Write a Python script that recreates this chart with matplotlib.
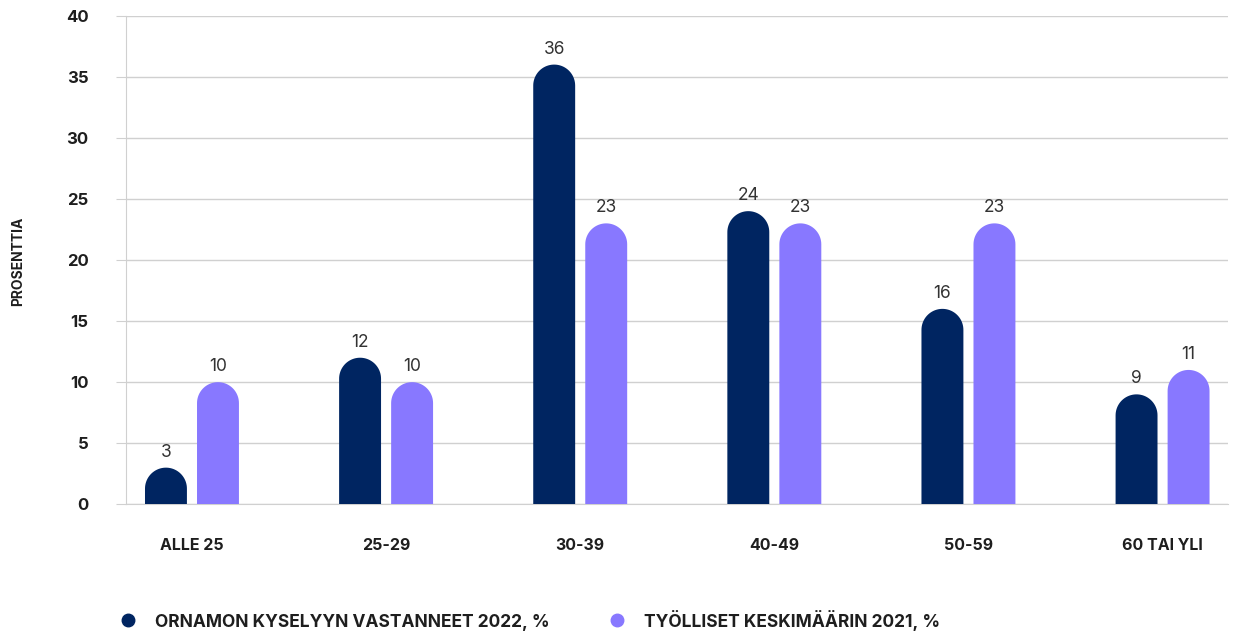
import numpy as np
import matplotlib.pyplot as plt
from matplotlib.patches import Polygon
from matplotlib.lines import Line2D

categories = ["ALLE 25", "25-29", "30-39", "40-49", "50-59", "60 TAI YLI"]
ornamo_2022 = [3, 12, 36, 24, 16, 9]
tyolliset_2021 = [10, 10, 23, 23, 23, 11]
series_names = ["ORNAMON KYSELYYN VASTANNEET 2022, %", "TYÖLLISET KESKIMÄÄRIN 2021, %"]
yticks = [0, 5, 10, 15, 20, 25, 30, 35, 40]

navy = "#002561"
lilac = "#8878FF"
grid_col = "#d0d0d0"
txt_col = "#1e1e1e"

plt.rcParams['font.family'] = ['Inter', 'DejaVu Sans']

fig = plt.figure(figsize=(12.35, 6.34), dpi=100)
ax = fig.add_axes([0.102, 0.2046, 0.892, 0.7706])

x = np.arange(len(categories))
bw = 0.216
offset = 0.134
ax.set_xlim(-0.34, len(categories) - 1 + 0.335)
ax.set_ylim(0, 40)


def rounded_bar(xc, val, color):
    # bar with a half-round top, radius = half bar width in pixels
    x_px_per_unit = ax.transData.transform((1, 0))[0] - ax.transData.transform((0, 0))[0]
    y_px_per_unit = ax.transData.transform((0, 1))[1] - ax.transData.transform((0, 0))[1]
    rx = bw / 2
    ry = rx * x_px_per_unit / y_px_per_unit
    ry = min(ry, val)
    t = np.linspace(0, np.pi, 40)
    top_x = xc + rx * np.cos(t)
    top_y = val - ry + ry * np.sin(t)
    pts = [(xc + rx, 0)] + list(zip(top_x, top_y)) + [(xc - rx, 0)]
    ax.add_patch(Polygon(pts, closed=True, facecolor=color, edgecolor="none", zorder=3))


for i in range(len(categories)):
    rounded_bar(x[i] - offset, ornamo_2022[i], navy)
    rounded_bar(x[i] + offset, tyolliset_2021[i], lilac)
    ax.annotate(str(ornamo_2022[i]), (x[i] - offset, ornamo_2022[i]), xytext=(0, 5),
                textcoords="offset points", ha="center", va="bottom", fontsize=12.5, color="#333333")
    ax.annotate(str(tyolliset_2021[i]), (x[i] + offset, tyolliset_2021[i]), xytext=(0, 5),
                textcoords="offset points", ha="center", va="bottom", fontsize=12.5, color="#333333")

ax.set_yticks(yticks)
ax.set_yticklabels([str(v) for v in yticks], fontsize=12, fontweight="bold", color=txt_col)
ax.set_xticks(x)
ax.set_xticklabels(categories, fontsize=11.5, fontweight="bold", color=txt_col)
ax.tick_params(axis="x", length=0, pad=24)
ax.tick_params(axis="y", length=7, color=grid_col, pad=20)
ax.yaxis.grid(True, color=grid_col, linewidth=1)
ax.set_axisbelow(True)
for s in ["top", "right"]:
    ax.spines[s].set_visible(False)
ax.spines["left"].set_color(grid_col)
ax.spines["bottom"].set_color(grid_col)

fig.text(0.0145, 0.5875, "PROSENTTIA", rotation=90, ha="center", va="center",
         fontsize=10, fontweight="bold", color=txt_col)

handles = [Line2D([], [], marker="o", linestyle="none", markersize=9, color=navy),
           Line2D([], [], marker="o", linestyle="none", markersize=9, color=lilac)]
leg = fig.legend(handles, series_names, loc="center left", bbox_to_anchor=(0.077, 0.022),
                 ncol=2, frameon=False, handletextpad=0.55, columnspacing=2.9,
                 prop={"size": 12.5, "weight": "bold"})
for t in leg.get_texts():
    t.set_color(txt_col)

fig.savefig("out.png", dpi=100)
